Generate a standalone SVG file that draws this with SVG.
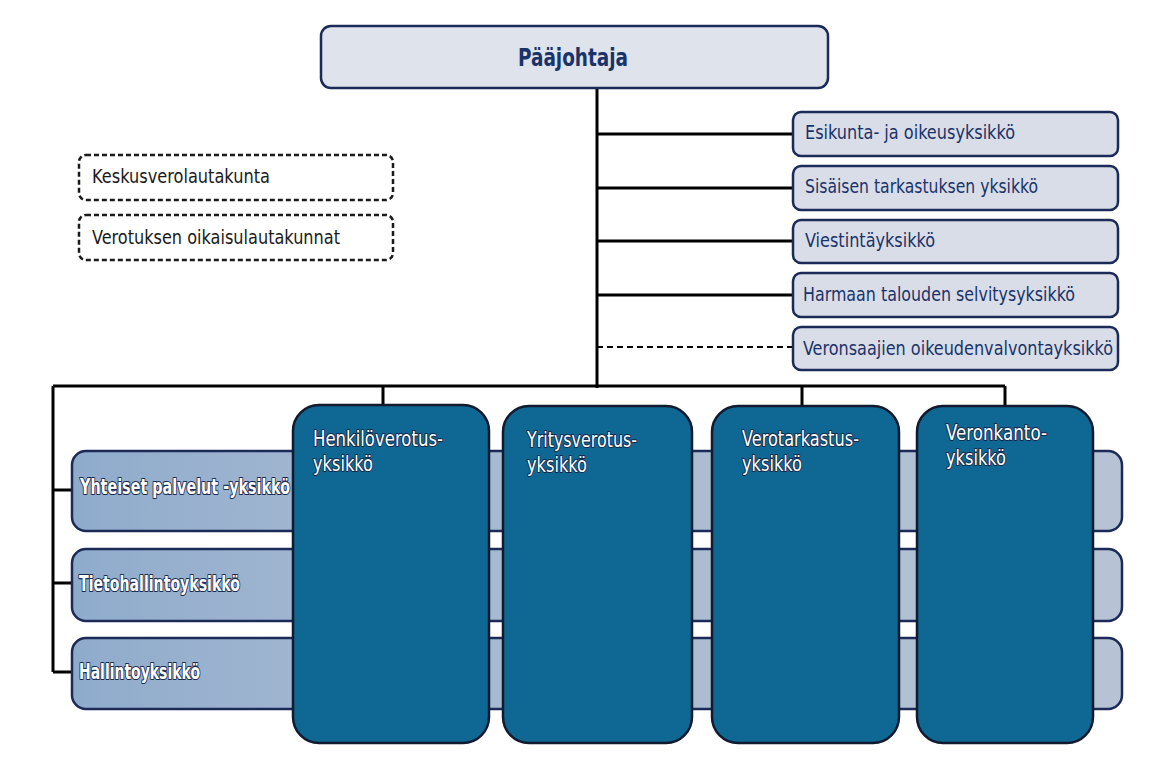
<svg xmlns="http://www.w3.org/2000/svg" width="1158" height="767" viewBox="0 0 1158 767">
<defs>
<linearGradient id="barg" x1="0" y1="0" x2="1" y2="0">
<stop offset="0" stop-color="#8fabcc"/>
<stop offset="0.25" stop-color="#a2b7d0"/>
<stop offset="1" stop-color="#b7c3d5"/>
</linearGradient>
<style>
.t{font-family:"Liberation Sans Narrow","DejaVu Sans Condensed","Liberation Sans",sans-serif;}
.hd{fill:#dfe3ec;stroke:#1b2a57;stroke-width:2.5;}
.rb{fill:#d9dde8;stroke:#1b2a57;stroke-width:2.5;}
.rt{fill:#1a3368;font-size:19px;}
.db{fill:#ffffff;stroke:#1a1a1a;stroke-width:2.5;stroke-dasharray:5 3;}
.dt{fill:#1a1a1a;font-size:19px;}
.bar{fill:url(#barg);stroke:#1b2a57;stroke-width:2.5;}
.big{fill:#0e6893;stroke:#111a2e;stroke-width:2.5;}
.wt{fill:#ffffff;font-size:22px;font-weight:bold;stroke:#1a2a50;stroke-width:2.2;paint-order:stroke;stroke-linejoin:round;}
.bt{fill:#ffffff;font-size:21px;stroke:#14284a;stroke-width:2;paint-order:stroke;stroke-linejoin:round;}
.c{fill:none;stroke:#000;stroke-width:3;}
.cd{fill:none;stroke:#000;stroke-width:2;stroke-dasharray:6 4;}
</style>
</defs>
<rect width="1158" height="767" fill="#ffffff"/>
<g id="connectors">
<path class="c" d="M597 88 V388"/>
<path class="c" d="M597 134 H793 M597 188 H793 M597 241 H793 M597 295 H793"/>
<path class="cd" d="M597 347 H793"/>
<path class="c" d="M53 386 H1005 M383 386 V405 M802 386 V406 M1005 386 V406"/>
<path class="c" d="M53 386 V672 M53 490 H72 M53 583 H72 M53 672 H72"/>
</g>
<g id="paajohtaja">
<rect class="hd" x="321" y="26" width="507" height="62" rx="10"/>
<text class="t" x="518" y="66" font-size="25" font-weight="bold" fill="#1a3368" textLength="110" lengthAdjust="spacingAndGlyphs">Pääjohtaja</text>
</g>
<g id="esikunta">
<rect class="rb" x="793" y="112" width="325" height="44" rx="8"/>
<text class="t rt" x="805" y="139" textLength="210" lengthAdjust="spacingAndGlyphs">Esikunta- ja oikeusyksikkö</text>
</g>
<g id="sisainen">
<rect class="rb" x="793" y="166" width="325" height="44" rx="8"/>
<text class="t rt" x="805" y="193" textLength="233" lengthAdjust="spacingAndGlyphs">Sisäisen tarkastuksen yksikkö</text>
</g>
<g id="viestinta">
<rect class="rb" x="793" y="220" width="325" height="43" rx="8"/>
<text class="t rt" x="805" y="247" textLength="130" lengthAdjust="spacingAndGlyphs">Viestintäyksikkö</text>
</g>
<g id="harmaa">
<rect class="rb" x="793" y="273" width="325" height="44" rx="8"/>
<text class="t rt" x="803" y="301" textLength="272" lengthAdjust="spacingAndGlyphs">Harmaan talouden selvitysyksikkö</text>
</g>
<g id="veronsaajien">
<rect class="rb" x="793" y="327" width="325" height="43" rx="8"/>
<text class="t rt" x="803" y="355" textLength="310" lengthAdjust="spacingAndGlyphs">Veronsaajien oikeudenvalvontayksikkö</text>
</g>
<g id="keskusverolautakunta">
<rect class="db" x="79" y="155" width="314" height="45" rx="7"/>
<text class="t dt" x="92" y="183" textLength="178" lengthAdjust="spacingAndGlyphs">Keskusverolautakunta</text>
</g>
<g id="oikaisulautakunnat">
<rect class="db" x="79" y="215" width="314" height="45" rx="7"/>
<text class="t dt" x="92" y="244" textLength="248" lengthAdjust="spacingAndGlyphs">Verotuksen oikaisulautakunnat</text>
</g>
<g id="yhteiset">
<rect class="bar" x="72" y="451" width="1050" height="80" rx="14"/>
<text class="t wt" x="80" y="494" textLength="210" lengthAdjust="spacingAndGlyphs">Yhteiset palvelut -yksikkö</text>
</g>
<g id="tietohallinto">
<rect class="bar" x="72" y="549" width="1050" height="72" rx="14"/>
<text class="t wt" x="79" y="591" textLength="161" lengthAdjust="spacingAndGlyphs">Tietohallintoyksikkö</text>
</g>
<g id="hallinto">
<rect class="bar" x="72" y="638" width="1050" height="71" rx="14"/>
<text class="t wt" x="79" y="679" textLength="121" lengthAdjust="spacingAndGlyphs">Hallintoyksikkö</text>
</g>
<g id="henkiloverotus">
<rect class="big" x="293" y="405" width="196" height="338" rx="26"/>
<text class="t bt" x="313" y="446" textLength="130" lengthAdjust="spacingAndGlyphs">Henkilöverotus-</text>
<text class="t bt" x="313" y="471" textLength="60" lengthAdjust="spacingAndGlyphs">yksikkö</text>
</g>
<g id="yritysverotus">
<rect class="big" x="503" y="406" width="189" height="337" rx="26"/>
<text class="t bt" x="527" y="447" textLength="110" lengthAdjust="spacingAndGlyphs">Yritysverotus-</text>
<text class="t bt" x="527" y="472" textLength="60" lengthAdjust="spacingAndGlyphs">yksikkö</text>
</g>
<g id="verotarkastus">
<rect class="big" x="712" y="406" width="187" height="337" rx="26"/>
<text class="t bt" x="742" y="446" textLength="117" lengthAdjust="spacingAndGlyphs">Verotarkastus-</text>
<text class="t bt" x="742" y="471" textLength="60" lengthAdjust="spacingAndGlyphs">yksikkö</text>
</g>
<g id="veronkanto">
<rect class="big" x="917" y="406" width="176" height="337" rx="26"/>
<text class="t bt" x="946" y="440" textLength="101" lengthAdjust="spacingAndGlyphs">Veronkanto-</text>
<text class="t bt" x="946" y="465" textLength="60" lengthAdjust="spacingAndGlyphs">yksikkö</text>
</g>
</svg>
